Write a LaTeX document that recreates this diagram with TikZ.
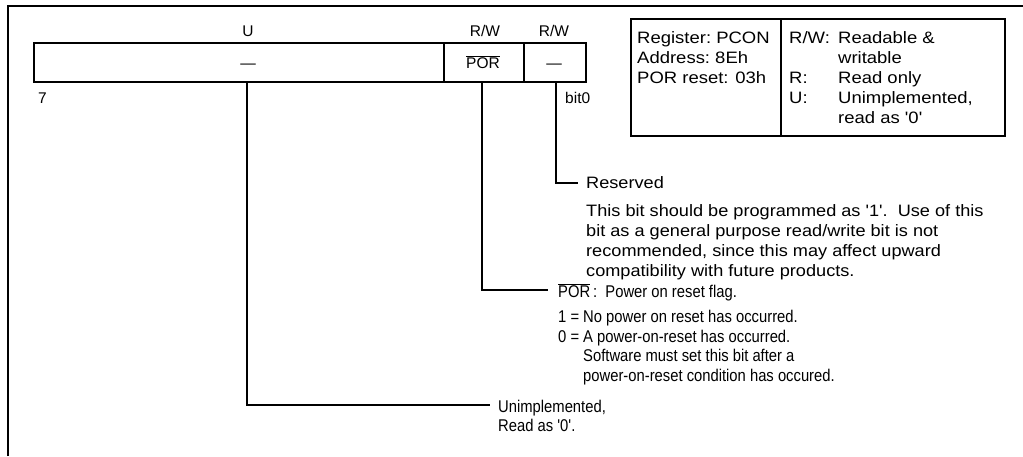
\documentclass[tikz,border=0pt]{standalone}
\usepackage{fontspec}
\setmainfont{Liberation Sans}
\newfontfamily\boxfont[FakeStretch=1.12]{Liberation Sans}
\newfontfamily\descfont[FakeStretch=1.1]{Liberation Sans}
\newfontfamily\lowfont[FakeStretch=0.87]{Liberation Sans}
\newcommand{\ovpor}{$\overline{\mbox{POR}}$}
\begin{document}
\begin{tikzpicture}[x=1pt,y=-1pt,
  box/.style={draw,line width=1.6pt,inner sep=0pt},
  conn/.style={line width=1.3pt},
  lbl/.style={font=\fontsize{15.5}{18}\selectfont, inner sep=0pt, anchor=base},
  lblw/.style={font=\fontsize{15.5}{18}\selectfont, inner sep=0pt, anchor=base west},
  itxt/.style={font=\boxfont\fontsize{16.5}{20}\selectfont, inner sep=0pt, anchor=base west},
  dtxt/.style={font=\descfont\fontsize{16.5}{20}\selectfont, inner sep=0pt, anchor=base west},
  ltxt/.style={font=\lowfont\fontsize{17}{20}\selectfont, inner sep=0pt, anchor=base west}
]
\useasboundingbox (0,0) rectangle (1023,456);
% frame (top and left only)
\draw[line width=1.6pt] (8,456) -- (8,6) -- (1023,6);
% register cells
\node[box, minimum width=410pt, minimum height=39pt, anchor=north west] (cu) at (33,42) {};
\node[box, minimum width=80pt, minimum height=39pt, anchor=north west] (cp) at (443,42) {};
\node[box, minimum width=62pt, minimum height=39pt, anchor=north west] (cr) at (523,42) {};
\node[lbl] (lu) at (248,36) {U};
\node[lbl] (lp) at (485,36) {R/W};
\node[lbl] (lr) at (554,36) {R/W};
\node[lbl] (vu) at (248,68) {---};
\node[lbl] (vp) at (483,68) {\ovpor};
\node[lbl] (vr) at (554,68) {---};
\node[lblw] (b7) at (38,103) {7};
\node[lblw] (b0) at (565,103) {bit0};
% info box
\node[box, minimum width=150pt, minimum height=117pt, anchor=north west] (ia) at (630,18) {};
\node[box, minimum width=224pt, minimum height=117pt, anchor=north west] (ib) at (780,18) {};
\node[itxt] (r1) at (637,43) {Register:\ PCON};
\node[itxt] (r2) at (637,63) {Address:\ 8Eh};
\node[itxt] (r3) at (637,83) {POR reset: 03h};
\node[itxt] (k1) at (789,43) {R/W:};
\node[itxt] (k3) at (789,83) {R:};
\node[itxt] (k4) at (789,103) {U:};
\node[itxt] (v1) at (838,43) {Readable \&};
\node[itxt] (v2) at (838,63) {writable};
\node[itxt] (v3) at (838,83) {Read only};
\node[itxt] (v4) at (838,103) {Unimplemented,};
\node[itxt] (v5) at (838,123) {read as '0'};
% descriptions
\node[dtxt] (res) at (586,188) {Reserved};
\node[dtxt] (d1) at (586,216) {This bit should be programmed as '1'.\ \ Use of this};
\node[dtxt] (d2) at (586,236) {bit as a general purpose read/write bit is not};
\node[dtxt] (d3) at (586,256) {recommended, since this may affect upward};
\node[dtxt] (d4) at (586,276) {compatibility with future products.};
\node[ltxt] (por) at (558,297) {\ovpor\,:\ \ Power on reset flag.};
\node[ltxt] (p1) at (558,322) {1 =};
\node[ltxt] (p1t) at (583,322) {No power on reset has occurred.};
\node[ltxt] (p0) at (558,342) {0 =};
\node[ltxt] (p0t) at (583,342) {A power-on-reset has occurred.};
\node[ltxt] (p0u) at (583,361) {Software must set this bit after a};
\node[ltxt] (p0v) at (583,381) {power-on-reset condition has occured.};
\node[ltxt] (un) at (498,412) {Unimplemented,};
\node[ltxt] (un2) at (498,431) {Read as '0'.};
% connectors
\coordinate (cuS) at (247,81);
\coordinate (cpS) at (482,81);
\coordinate (crS) at (556,81);
\coordinate (unE) at (490,405);
\coordinate (porE) at (548,290);
\coordinate (resE) at (578,183);
\draw[conn] (cuS) |- (unE);
\draw[conn] (cpS) |- (porE);
\draw[conn] (crS) |- (resE);
\end{tikzpicture}
\end{document}
